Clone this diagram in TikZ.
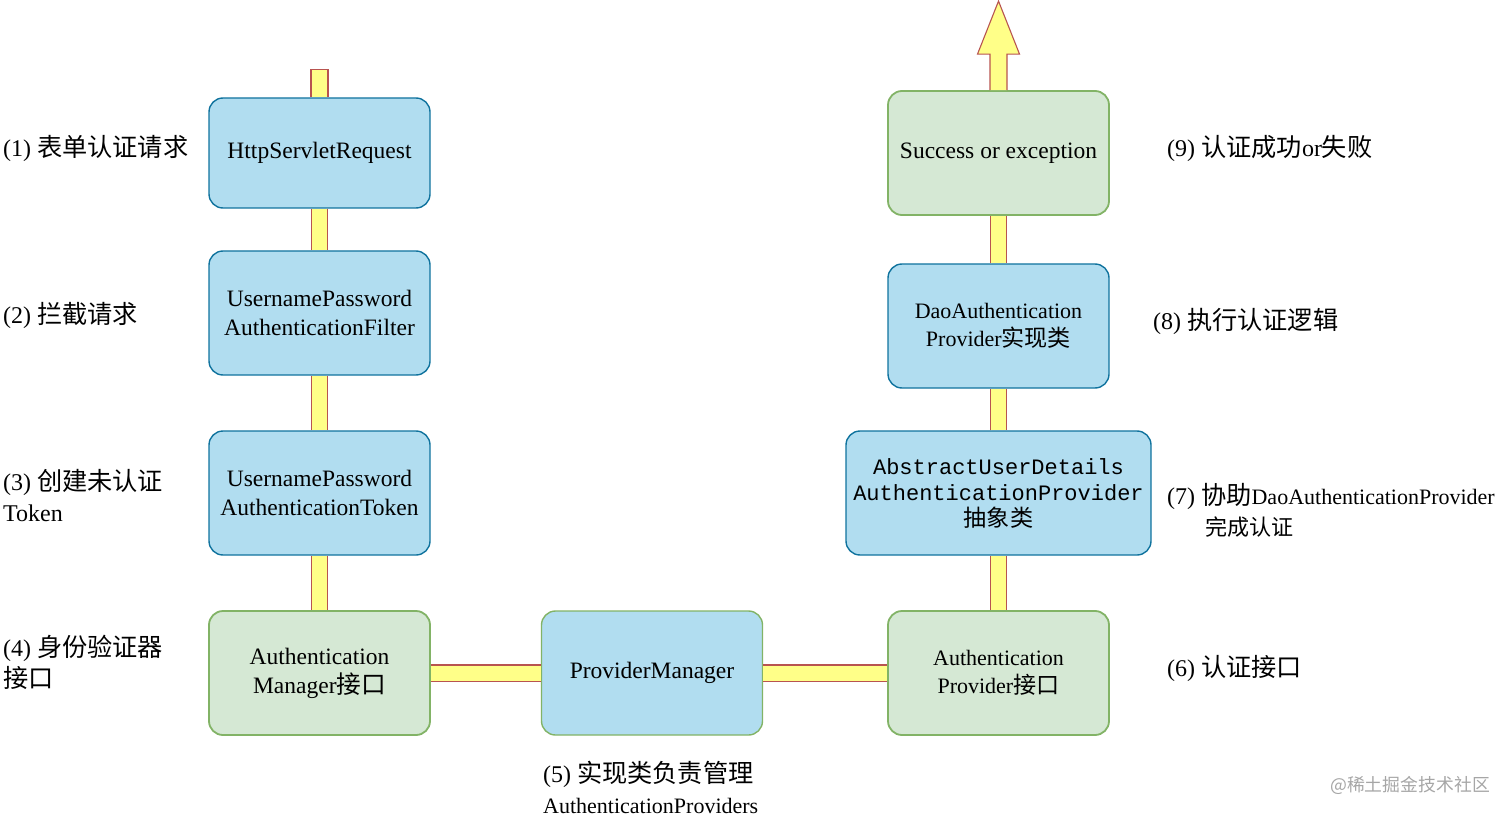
\documentclass[tikz,border=0pt]{standalone}
\usepackage{fontspec}
\setmainfont{Liberation Serif}
\newfontfamily\cjkfont[Scale=1.05]{Noto Sans CJK SC}
\newfontfamily\monofont{Liberation Mono}
\newcommand{\zh}[1]{{\cjkfont #1}}
\definecolor{boxblue}{HTML}{B1DDF0}
\definecolor{lineblue}{HTML}{10739E}
\definecolor{boxgreen}{HTML}{D5E8D4}
\definecolor{linegreen}{HTML}{82B366}
\definecolor{bandyellow}{HTML}{FFFF88}
\definecolor{bandred}{HTML}{B85450}
\begin{document}
\begin{tikzpicture}[x=1pt,y=-1pt]
    \tikzstyle{blk}=[rounded corners=14pt,minimum width=221pt,minimum height=124pt,
                     align=center,inner sep=2pt,font=\fontsize{23.5}{29}\selectfont]
    \tikzstyle{bluebox}=[blk,fill=boxblue,draw=lineblue,line width=1.4pt]
    \tikzstyle{greenbox}=[blk,fill=boxgreen,draw=linegreen,line width=1.8pt]
    \tikzstyle{band}=[double=bandyellow,double distance=15pt,line width=1.1pt,draw=bandred]
    \tikzstyle{stub}=[fill=bandyellow,draw=bandred,line width=1.1pt,line join=miter]
    \tikzstyle{lbl}=[anchor=west,inner sep=0pt,align=left,font=\fontsize{24}{31}\selectfont]
    \useasboundingbox (0,0) rectangle (1512,818);
    % left column
    \node[bluebox,minimum height=110pt] (req) at (319.5,153) {HttpServletRequest};
    \node[bluebox] (filter) at (319.5,313) {UsernamePassword\\AuthenticationFilter};
    \node[bluebox] (token) at (319.5,493) {UsernamePassword\\AuthenticationToken};
    \node[greenbox] (mgr) at (319.5,673) {Authentication\\Manager\zh{接口}};
    % middle
    \node[bluebox,draw=linegreen] (pm) at (652,673) {ProviderManager};
    % right column
    \node[greenbox,font=\fontsize{22}{28}\selectfont] (prov) at (998.5,673) {Authentication\\Provider\zh{接口}};
    \node[bluebox,minimum width=305pt,font=\monofont\fontsize{22}{26}\selectfont] (abs) at (998.5,493)
        {AbstractUserDetails\\AuthenticationProvider\\\zh{抽象类}};
    \node[bluebox,font=\fontsize{22}{28}\selectfont] (dao) at (998.5,326) {DaoAuthentication\\Provider\zh{实现类}};
    \node[greenbox] (succ) at (998.5,153) {Success or exception};
    % connectors
    \draw[band] (req) -- (filter);
    \draw[band] (filter) -- (token);
    \draw[band] (token) -- (mgr);
    \draw[band] (mgr) -- (pm);
    \draw[band] (pm) -- (prov);
    \draw[band] (prov) -- (abs);
    \draw[band] (abs) -- (dao);
    \draw[band] (dao) -- (succ);
    \draw[stub] ([xshift=-8.5pt]req.north) -- ++(0,-28) -- ++(17,0) -- ++(0,28);
    \draw[stub] ([xshift=-8.5pt]succ.north) -- ++(0,-36) -- ++(-12.5,0) -- ++(21,-53)
        -- ++(21,53) -- ++(-12.5,0) -- ++(0,36);
    % labels
    \node[lbl] (l1) at (3,148) {(1) \zh{表单认证请求}};
    \node[lbl] (l2) at (3,315) {(2) \zh{拦截请求}};
    \node[lbl] (l3) at (3,496) {(3) \zh{创建未认证}\\Token};
    \node[lbl] (l4) at (3,662) {(4) \zh{身份验证器}\\\zh{接口}};
    \node[lbl] (l5) at (543,787) {(5) \zh{实现类负责管理}\\{\fontsize{22}{22}\selectfont AuthenticationProviders}};
    \node[lbl] (l6) at (1167,668) {(6) \zh{认证接口}};
    \node[lbl] (l7) at (1167,510) {(7) \zh{协助}{\fontsize{22}{22}\selectfont DaoAuthenticationProvider}\\
        \hspace*{38pt}{\fontsize{21}{21}\selectfont\zh{完成认证}}};
    \node[lbl] (l8) at (1153,321) {(8) \zh{执行认证逻辑}};
    \node[lbl] (l9) at (1167,148) {(9) \zh{认证成功}or\zh{失败}};
    \node[anchor=west,inner sep=0pt,text=black!35,font=\cjkfont\fontsize{17}{17}\selectfont] (wm) at (1330,785) {@稀土掘金技术社区};
\end{tikzpicture}
\end{document}
